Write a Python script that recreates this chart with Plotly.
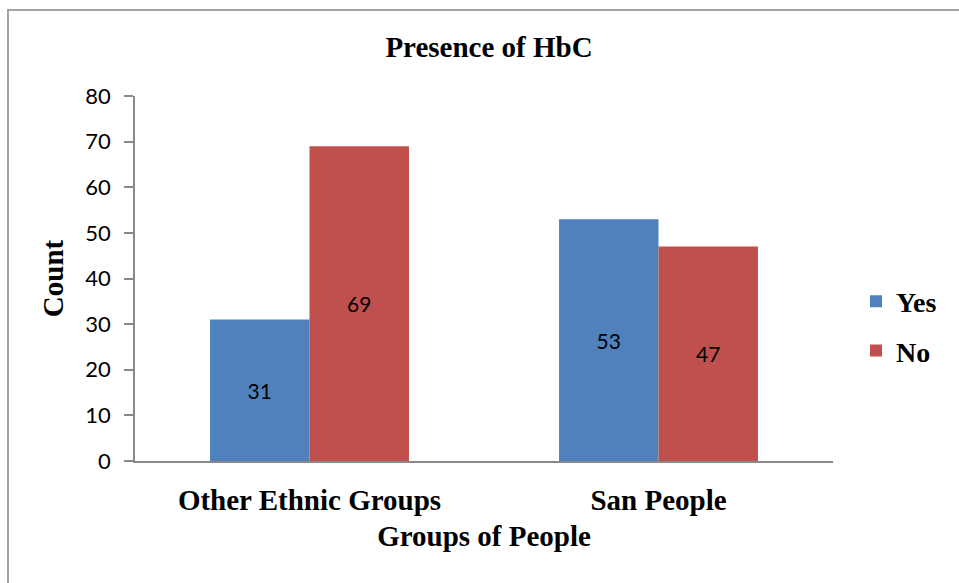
import plotly.graph_objects as go

# Chart data
groups = ["Other Ethnic Groups", "San People"]
yes_counts = [31, 53]
no_counts = [69, 47]
series_names = ["Yes", "No"]
y_ticks = [0, 10, 20, 30, 40, 50, 60, 70, 80]

BLUE = "#4F81BD"
RED = "#C0504D"
AXIS_GREY = "#898989"
SERIF = "Liberation Serif"
SANS = "Lato"

W, H = 959, 583
ML, MR, MT, MB = 135, 126, 96, 122

fig = go.Figure()
for name, vals, color, grp in [
    (series_names[0], yes_counts, BLUE, "g1"),
    (series_names[1], no_counts, RED, "g2"),
]:
    fig.add_trace(go.Bar(
        name=f"<b>{name}</b>",
        x=groups,
        y=vals,
        marker=dict(color=color, line=dict(width=0)),
        text=[str(v) for v in vals],
        textposition="inside",
        insidetextanchor="middle",
        textangle=0,
        constraintext="none",
        textfont=dict(family=SANS, size=21, color="black"),
        legendgroup=grp,
    ))

# outer chart border (left and top edges visible)
pw = W - ML - MR
ph = H - MT - MB
def px_x(x):
    return (x - ML) / pw
def px_y(y):
    return (H - MB - y) / ph

fig.add_shape(
    type="rect", xref="paper", yref="paper",
    x0=px_x(8), x1=px_x(975), y0=px_y(600), y1=px_y(10),
    line=dict(color="#a3a3a3", width=2), fillcolor="rgba(0,0,0,0)",
    layer="below",
)

fig.update_layout(
    width=W, height=H,
    margin=dict(l=ML, r=MR, t=MT, b=MB, pad=0),
    paper_bgcolor="white",
    plot_bgcolor="white",
    barmode="group",
    bargap=0.43,
    bargroupgap=0,
    title=dict(
        text="<b>Presence of HbC</b>",
        font=dict(family=SERIF, size=29, color="black"),
        x=(489 / W), xanchor="center",
        y=1 - 47 / H, yanchor="middle", yref="container",
    ),
    legend=dict(
        x=px_x(856), xanchor="left",
        y=px_y(326), yanchor="middle",
        font=dict(family=SERIF, size=28, color="black"),
        tracegroupgap=10,
        bgcolor="rgba(0,0,0,0)",
        itemclick=False,
    ),
    xaxis=dict(
        showline=True, linecolor=AXIS_GREY, linewidth=1.5,
        ticks="", showgrid=False,
        tickfont=dict(family=SERIF, size=29, color="black"),
        tickprefix="<b>", ticksuffix="</b>",
        ticklabelstandoff=12,
        title=dict(text="<b>Groups of People</b>",
                   font=dict(family=SERIF, size=29, color="black"),
                   standoff=11),
    ),
    yaxis=dict(
        range=[0, 80],
        tickvals=y_ticks,
        showline=True, linecolor=AXIS_GREY, linewidth=1.5,
        ticks="outside", ticklen=9, tickcolor=AXIS_GREY, tickwidth=1.5,
        showgrid=False, zeroline=False,
        tickfont=dict(family=SANS, size=22, color="black"),
        ticklabelstandoff=9,
        title=dict(text="<b>Count</b>",
                   font=dict(family=SERIF, size=29, color="black"),
                   standoff=13),
    ),
)

fig.write_html("out.html")
